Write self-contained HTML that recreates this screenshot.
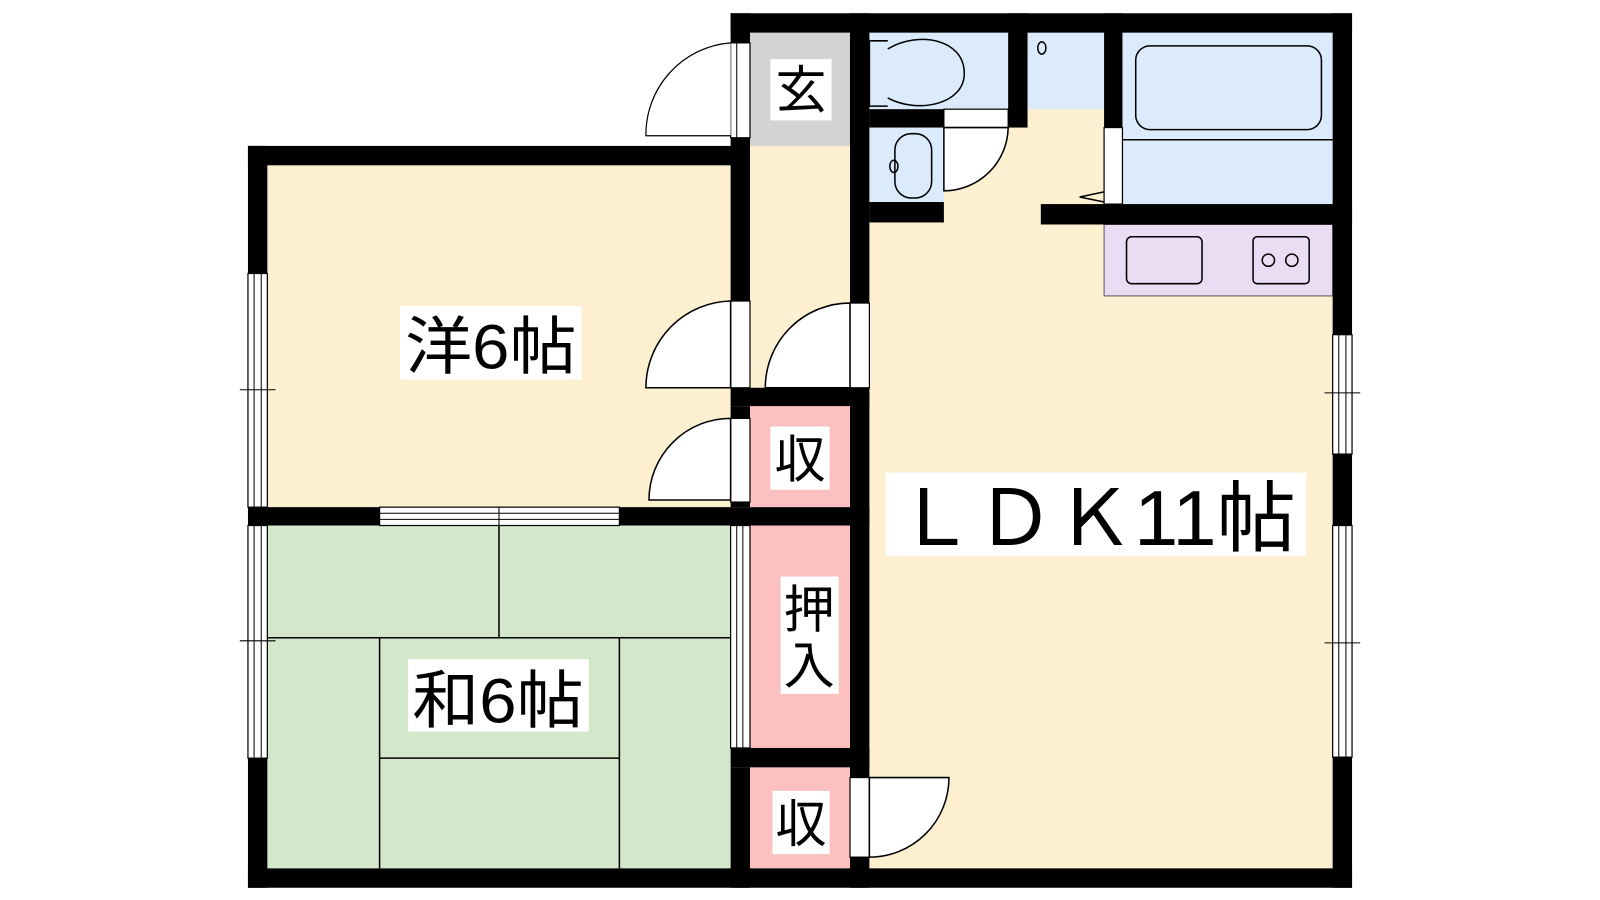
<!DOCTYPE html>
<html><head><meta charset="utf-8"><style>
html,body{margin:0;padding:0;background:#fff;}
svg{display:block}
text{font-family:"Liberation Sans","Noto Sans CJK JP",sans-serif;fill:#000}
</style></head><body>
<svg width="1600" height="900" viewBox="0 0 1568 882" xmlns="http://www.w3.org/2000/svg">
<!-- fills -->
<rect x="262" y="162" width="454" height="335" fill="#fdf0d0"/>
<rect x="262" y="515" width="454" height="336" fill="#d3e7ca"/>
<rect x="735" y="143" width="98" height="240" fill="#fdf0d0"/>
<rect x="735" y="32" width="98" height="111" fill="#d3d3d3"/>
<rect x="735" y="398" width="98" height="99" fill="#fcc0c0"/>
<rect x="735" y="515" width="98" height="218" fill="#fcc0c0"/>
<rect x="735" y="752" width="98" height="99" fill="#fcc0c0"/>
<rect x="852" y="107" width="454" height="744" fill="#fdf0d0"/>
<rect x="852" y="32" width="136" height="75" fill="#dcebfc"/>
<rect x="852" y="125" width="73" height="73" fill="#dcebfc"/>
<rect x="1007" y="32" width="75" height="75" fill="#dcebfc"/>
<rect x="1100" y="32" width="206" height="168" fill="#dcebfc"/>
<rect x="1082" y="220" width="224" height="70" fill="#eadcf2" stroke="#555" stroke-width="1"/>
<!-- fixtures -->
<g fill="none" stroke="#000" stroke-width="1.5">
<rect x="1113" y="45" width="182" height="82" rx="14"/>
<line x1="1100" y1="137" x2="1306" y2="137"/>
<rect x="1104" y="232" width="74" height="46" rx="5"/>
<rect x="1228" y="232" width="55" height="46" rx="4"/>
<circle cx="1243" cy="255" r="6"/><circle cx="1266" cy="255" r="6"/>
<path d="M870 40 H852 V104 H870 M870 48 C900 30 945 38 945 72 C945 102 900 112 870 96"/>
<rect x="877" y="131" width="36" height="63" rx="16"/>
<ellipse cx="876" cy="163" rx="4" ry="6"/>
<ellipse cx="1021" cy="47" rx="4" ry="6"/>
<line x1="1082" y1="188" x2="1058" y2="193"/><line x1="1082" y1="198" x2="1058" y2="193"/>
<!-- tatami -->
<line x1="489" y1="515" x2="489" y2="625"/>
<line x1="262" y1="625" x2="716" y2="625"/>
<line x1="372" y1="625" x2="372" y2="851"/>
<line x1="607" y1="625" x2="607" y2="851"/>
<line x1="372" y1="743" x2="607" y2="743"/>
</g>
<!-- door openings (white with lines) -->
<g fill="#fff" stroke="#000" stroke-width="1.2">
<rect x="716" y="42" width="19" height="93"/>
<rect x="716" y="295" width="19" height="85"/>
<rect x="716" y="410" width="19" height="82"/>
<rect x="833" y="297" width="19" height="83"/>
<rect x="833" y="762" width="19" height="78"/>
<rect x="925" y="107" width="63" height="18"/>
<rect x="1082" y="125" width="18" height="75"/>
<rect x="243" y="268" width="19" height="229"/>
<rect x="243" y="515" width="19" height="228"/>
<rect x="1306" y="328" width="19" height="117"/>
<rect x="1306" y="515" width="19" height="227"/>
<rect x="372" y="497" width="235" height="18"/>
<rect x="716" y="515" width="19" height="218"/>
<!-- door arcs -->
<path d="M716 42 A90 90 0 0 0 633 133 H716"/>
<path d="M716 295 A85 85 0 0 0 633 380 H716 Z" stroke-width="1.5"/>
<path d="M716 410 A80 80 0 0 0 636 490 H716 Z" stroke-width="1.5"/>
<path d="M833 297 A83 83 0 0 0 750 380 H833 Z" stroke-width="1.5"/>
<path d="M852 762 H930 A78 78 0 0 1 852 840 Z" stroke-width="1.5"/>
<path d="M925 125 H988 A63 63 0 0 1 925 187 Z" stroke-width="1.5"/>
</g>
<g stroke="#000" stroke-width="1">
<line x1="249" y1="268" x2="249" y2="497"/><line x1="256" y1="268" x2="256" y2="497"/>
<line x1="249" y1="515" x2="249" y2="743"/><line x1="256" y1="515" x2="256" y2="743"/>
<line x1="235" y1="382" x2="270" y2="382"/><line x1="235" y1="628" x2="270" y2="628"/>
<line x1="1312" y1="328" x2="1312" y2="445"/><line x1="1319" y1="328" x2="1319" y2="445"/>
<line x1="1312" y1="515" x2="1312" y2="742"/><line x1="1319" y1="515" x2="1319" y2="742"/>
<line x1="1298" y1="385" x2="1333" y2="385"/><line x1="1298" y1="630" x2="1333" y2="630"/>
<line x1="372" y1="503" x2="607" y2="503"/><line x1="372" y1="509" x2="607" y2="509"/>
<line x1="489" y1="497" x2="489" y2="515"/>
<line x1="722" y1="515" x2="722" y2="733"/><line x1="728" y1="515" x2="728" y2="733"/>
<line x1="722" y1="42" x2="722" y2="135"/>
</g>
<!-- walls -->
<g fill="#000">
<rect x="716" y="13" width="609" height="19"/>
<rect x="716" y="13" width="19" height="29"/>
<rect x="716" y="135" width="19" height="160"/>
<rect x="243" y="143" width="492" height="19"/>
<rect x="243" y="143" width="19" height="125"/>
<rect x="243" y="743" width="19" height="127"/>
<rect x="243" y="851" width="1082" height="19"/>
<rect x="243" y="497" width="129" height="18"/>
<rect x="607" y="497" width="245" height="18"/>
<rect x="716" y="380" width="136" height="18"/>
<rect x="716" y="398" width="19" height="12"/>
<rect x="716" y="492" width="19" height="5"/>
<rect x="716" y="733" width="136" height="19"/>
<rect x="716" y="752" width="19" height="118"/>
<rect x="833" y="13" width="19" height="284"/>
<rect x="833" y="380" width="19" height="382"/>
<rect x="833" y="840" width="19" height="30"/>
<rect x="852" y="107" width="73" height="18"/>
<rect x="852" y="198" width="73" height="20"/>
<rect x="988" y="13" width="19" height="112"/>
<rect x="1082" y="13" width="18" height="112"/>
<rect x="1020" y="200" width="305" height="20"/>
<rect x="1306" y="13" width="19" height="315"/>
<rect x="1306" y="445" width="19" height="70"/>
<rect x="1306" y="742" width="19" height="128"/>
</g>
<!-- labels -->
<g fill="#fff">
<rect x="755" y="58" width="60" height="60"/>
<rect x="755" y="418" width="58" height="62"/>
<rect x="765" y="565" width="57" height="115"/>
<rect x="757" y="775" width="56" height="62"/>
<rect x="392" y="300" width="178" height="72"/>
<rect x="400" y="646" width="177" height="71"/>
<rect x="868" y="463" width="412" height="82"/>
</g>
<text x="785" y="106" font-size="50" text-anchor="middle">玄</text>
<text x="784" y="468" font-size="50" text-anchor="middle">収</text>
<text x="793" y="615" font-size="50" text-anchor="middle">押</text>
<text x="793" y="670" font-size="50" text-anchor="middle">入</text>
<text x="785" y="825" font-size="50" text-anchor="middle">収</text>
<text x="481" y="361" font-size="62" text-anchor="middle" textLength="168" lengthAdjust="spacingAndGlyphs">洋6帖</text>
<text x="488" y="708" font-size="62" text-anchor="middle" textLength="168" lengthAdjust="spacingAndGlyphs">和6帖</text>
<text x="1074" y="534" font-size="76" text-anchor="middle" textLength="392" lengthAdjust="spacingAndGlyphs">ＬＤＫ11帖</text>
</svg>
</body></html>
